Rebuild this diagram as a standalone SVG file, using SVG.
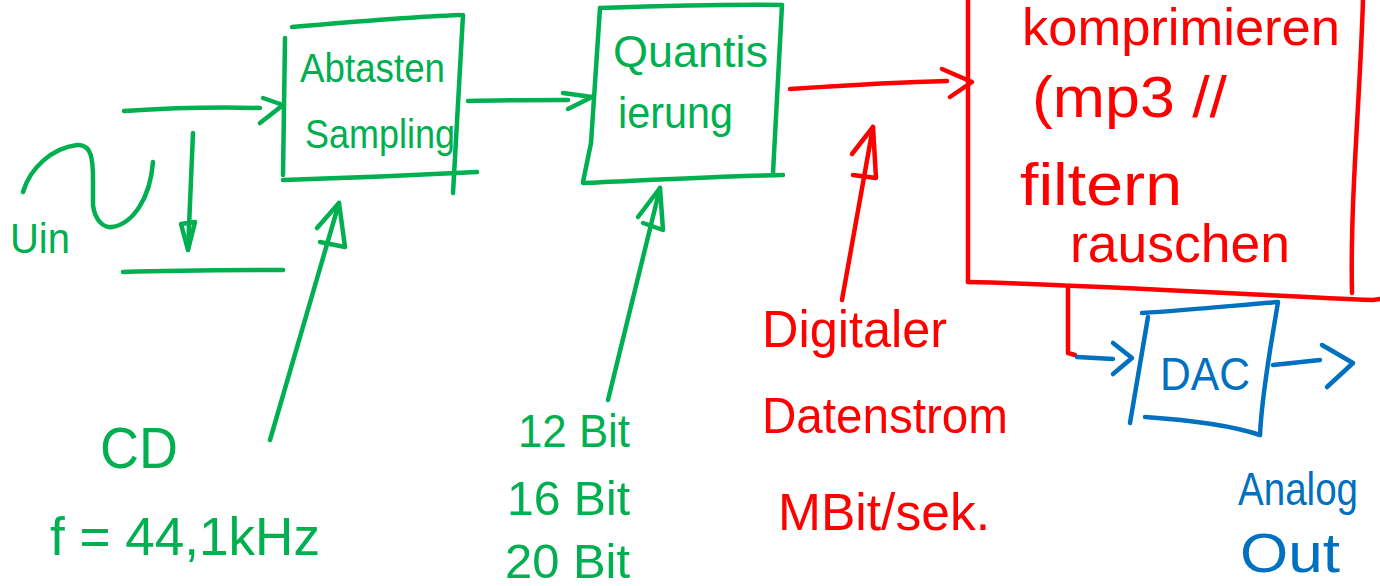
<svg xmlns="http://www.w3.org/2000/svg" width="1380" height="586" viewBox="0 0 1380 586">
<style>
.g{stroke:#00B050}
.r{stroke:#FF0000}
.b{stroke:#0070C0}
.ln{fill:none;stroke-width:4.5;stroke-linecap:round;stroke-linejoin:round}
.t{font-family:"Liberation Sans",Arial,sans-serif}
.tg{fill:#00B050}
.tr{fill:#FF0000}
.tb{fill:#0070C0}
</style>
<rect width="1380" height="586" fill="#FFFFFF"/>

<g id="input-signal">
<path class="ln g" d="M23,192 C30,168 52,148 77,145 C92,144 93,160 93,180 L93,205 C95,222 105,228 112,227 C132,224 150,200 153,162"/>
<path class="ln g" d="M124,111 C170,108 220,107 260,108"/>
<path class="ln g" d="M193,133 L188,250"/>
<path class="ln g" d="M181,224 L188,250 L195,222 Z" fill="#00B050"/>
<path class="ln g" d="M123,272 C180,270 230,270 283,270"/>
<text class="t tg" x="10" y="253" font-size="42" textLength="60" lengthAdjust="spacingAndGlyphs">Uin</text>
</g>

<g id="sampling">
<path class="ln g" d="M292,27 C350,22 410,17 460,15"/>
<path class="ln g" d="M285,38 L283,175"/>
<path class="ln g" d="M463,15 L453,193"/>
<path class="ln g" d="M283,180 C350,178 420,175 477,172"/>
<text class="t tg" x="300" y="82" font-size="40" textLength="145" lengthAdjust="spacingAndGlyphs">Abtasten</text>
<text class="t tg" x="305" y="148" font-size="40" textLength="150" lengthAdjust="spacingAndGlyphs">Sampling</text>
</g>

<g id="quantization">
<path class="ln g" d="M600,8 C660,6 720,4 782,5"/>
<path class="ln g" d="M600,8 L591,143 L583,182"/>
<path class="ln g" d="M782,5 L773,173"/>
<path class="ln g" d="M583,183 C650,180 720,176 783,175"/>
<text class="t tg" x="613" y="67" font-size="44" textLength="155" lengthAdjust="spacingAndGlyphs">Quantis</text>
<text class="t tg" x="618" y="128" font-size="44" textLength="115" lengthAdjust="spacingAndGlyphs">ierung</text>
</g>

<g id="compression">
<path class="ln r" d="M968,0 L968,282"/>
<path class="ln r" d="M1363,0 C1360,100 1350,200 1352,293"/>
<path class="ln r" d="M968,282 C1100,285 1250,295 1373,300 L1380,299"/>
<text class="t tr" x="1022" y="45" font-size="52" textLength="318" lengthAdjust="spacingAndGlyphs">komprimieren</text>
<text class="t tr" x="1032" y="117" font-size="58" textLength="195" lengthAdjust="spacingAndGlyphs">(mp3 //</text>
<text class="t tr" x="1020" y="205" font-size="60" textLength="162" lengthAdjust="spacingAndGlyphs">filtern</text>
<text class="t tr" x="1070" y="262" font-size="54" textLength="220" lengthAdjust="spacingAndGlyphs">rauschen</text>
</g>

<g id="dac">
<path class="ln b" d="M1142,313 C1190,310 1240,305 1278,302 C1272,340 1262,390 1260,435"/>
<path class="ln b" d="M1148,317 L1130,423"/>
<path class="ln b" d="M1145,417 C1190,420 1230,425 1260,435"/>
<text class="t tb" x="1160" y="390" font-size="46" textLength="90" lengthAdjust="spacingAndGlyphs">DAC</text>
</g>

<g id="cd-label">
<text class="t tg" x="100" y="468" font-size="58" textLength="78" lengthAdjust="spacingAndGlyphs">CD</text>
<text class="t tg" x="50" y="555" font-size="54" textLength="270" lengthAdjust="spacingAndGlyphs">f = 44,1kHz</text>
</g>

<g id="bits-label">
<text class="t tg" x="518" y="447" font-size="46" textLength="112" lengthAdjust="spacingAndGlyphs">12 Bit</text>
<text class="t tg" x="507" y="515" font-size="48" textLength="123" lengthAdjust="spacingAndGlyphs">16 Bit</text>
<text class="t tg" x="505" y="578" font-size="48" textLength="125" lengthAdjust="spacingAndGlyphs">20 Bit</text>
</g>

<g id="datastream-label">
<text class="t tr" x="762" y="347" font-size="52" textLength="185" lengthAdjust="spacingAndGlyphs">Digitaler</text>
<text class="t tr" x="762" y="433" font-size="50" textLength="246" lengthAdjust="spacingAndGlyphs">Datenstrom</text>
<text class="t tr" x="778" y="530" font-size="52" textLength="212" lengthAdjust="spacingAndGlyphs">MBit/sek.</text>
</g>

<g id="analog-out-label">
<text class="t tb" x="1238" y="505" font-size="46" textLength="120" lengthAdjust="spacingAndGlyphs">Analog</text>
<text class="t tb" x="1240" y="572" font-size="55" textLength="100" lengthAdjust="spacingAndGlyphs">Out</text>
</g>

<g id="connectors">
<path class="ln g" d="M263,98 L283,105 L260,123"/>
<path class="ln g" d="M468,101 C500,100 540,100 568,100"/>
<path class="ln g" d="M563,93 L592,97 L568,109"/>
<path class="ln r" d="M790,89 C850,85 900,82 947,81"/>
<path class="ln r" d="M942,69 L972,82 L950,97"/>
<path class="ln r" d="M842,300 L873,127"/>
<path class="ln r" d="M852,154 L873,127 L876,178 L853,175"/>
<path class="ln g" d="M270,440 L339,203"/>
<path class="ln g" d="M317,228 L339,203 L345,247 L320,242"/>
<path class="ln g" d="M608,400 L660,188"/>
<path class="ln g" d="M638,217 L660,188 L663,230 L643,223"/>
<path class="ln r" d="M1068,287 L1068,353 L1075,355"/>
<path class="ln b" d="M1077,357 L1113,359"/>
<path class="ln b" d="M1113,343 L1132,358 L1113,374"/>
<path class="ln b" d="M1273,365 L1320,360"/>
<path class="ln b" d="M1322,345 L1353,363 L1327,387"/>
</g>
</svg>
